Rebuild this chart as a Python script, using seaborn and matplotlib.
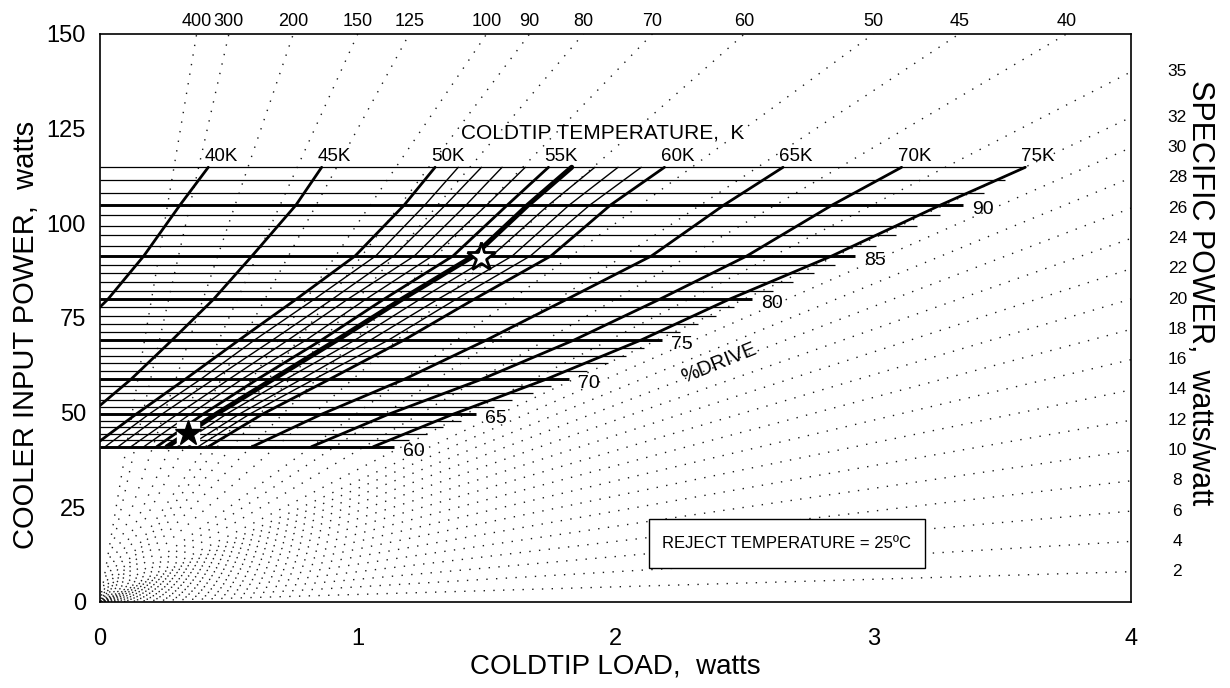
import numpy as np
import pandas as pd
import seaborn as sns
import matplotlib.pyplot as plt
from matplotlib.ticker import MultipleLocator
from matplotlib.patches import Rectangle

# drive levels (%) and the cooler input power of each drive line (W)
drive = list(range(60, 94))
power = [41.0, 42.7, 44.4, 46.2, 47.9, 49.6, 51.4, 53.3, 55.1, 57.0, 58.8,
         60.9, 63.0, 65.0, 67.1, 69.2, 71.3, 73.5, 75.6, 77.8, 79.9,
         82.2, 84.5, 86.8, 89.1, 91.4, 94.1, 96.8, 99.4, 102.1, 104.8,
         108.1, 111.5, 114.8]
# coldtip load where each drive line stops (W)
drive_end = [1.14, 1.20, 1.27, 1.33, 1.40, 1.46, 1.53, 1.60, 1.68, 1.75, 1.82,
             1.89, 1.97, 2.04, 2.11, 2.18, 2.25, 2.32, 2.39, 2.46, 2.53,
             2.61, 2.69, 2.77, 2.85, 2.93, 3.01, 3.09, 3.17, 3.26, 3.35,
             3.43, 3.51, 3.59]

# coldtip temperature curves: load (W) at these drive levels
curve_drive = [60, 65, 70, 75, 80, 85, 90, 93]
load_40K = [-0.62, -0.45, -0.29, -0.13, 0.03, 0.17, 0.31, 0.42]
load_45K = [-0.19, -0.04, 0.12, 0.28, 0.44, 0.59, 0.76, 0.86]
load_50K = [-0.03, 0.14, 0.33, 0.54, 0.76, 0.99, 1.18, 1.30]
load_51K = [0.02, 0.19, 0.39, 0.60, 0.83, 1.07, 1.26, 1.39]
load_52K = [0.07, 0.24, 0.44, 0.67, 0.90, 1.14, 1.34, 1.48]
load_53K = [0.12, 0.30, 0.50, 0.73, 0.96, 1.22, 1.42, 1.56]
load_54K = [0.17, 0.35, 0.55, 0.80, 1.03, 1.29, 1.50, 1.65]
load_55K = [0.22, 0.40, 0.61, 0.86, 1.10, 1.37, 1.58, 1.74]
load_56K = [0.26, 0.45, 0.67, 0.92, 1.17, 1.45, 1.66, 1.83]
load_57K = [0.30, 0.49, 0.72, 0.99, 1.24, 1.52, 1.74, 1.92]
load_58K = [0.34, 0.54, 0.78, 1.05, 1.31, 1.60, 1.82, 2.01]
load_59K = [0.38, 0.58, 0.83, 1.12, 1.38, 1.67, 1.90, 2.10]
load_60K = [0.42, 0.63, 0.89, 1.18, 1.45, 1.75, 1.98, 2.19]
load_65K = [0.59, 0.86, 1.18, 1.50, 1.81, 2.14, 2.42, 2.65]
load_70K = [0.82, 1.12, 1.48, 1.84, 2.17, 2.51, 2.84, 3.11]
load_75K = [1.06, 1.37, 1.73, 2.10, 2.44, 2.84, 3.26, 3.59]

thick_temps = {40: load_40K, 45: load_45K, 50: load_50K, 55: load_55K,
               60: load_60K, 65: load_65K, 70: load_70K, 75: load_75K}
thin_temps = {51: load_51K, 52: load_52K, 53: load_53K, 54: load_54K,
              57: load_57K, 58: load_58K, 59: load_59K}
bold_temps = {56: load_56K}

# specific power rays (watts/watt)
sp_top = [400, 300, 200, 150, 125, 100, 90, 80, 70, 60, 50, 45, 40]
sp_right = [35, 32, 30, 28, 26, 24, 22, 20, 18, 16, 14, 12, 10, 8, 6, 4, 2]

# operating points
star_load = [0.34, 1.48]
star_power = [44.5, 91.2]

sns.set_style("white")
plt.rcParams['font.family'] = ['Liberation Sans', 'DejaVu Sans']
plt.rcParams.update({'text.color': 'black', 'axes.labelcolor': 'black',
                     'xtick.color': 'black', 'ytick.color': 'black'})

fig = plt.figure(figsize=(12.3, 6.88), dpi=100)
ax = fig.add_axes([0.0813, 0.125, 0.8382, 0.8256])

# dotted specific power lines from the origin
for i, sp in enumerate(sp_top + sp_right):
    ax.plot([0, 4], [0, 4 * sp], color='#1a1a1a', lw=1.0,
            linestyle=((i * 2.3) % 7, (1, 6)), zorder=1)

# drive lines
lw_drive = [2.1 if d % 5 == 0 else 0.9 for d in drive]
ax.hlines(power, 0, drive_end, colors='black', linewidths=lw_drive, zorder=2)


def curve_frame(temps):
    cp = [power[drive.index(d)] for d in curve_drive]
    rows = []
    for t, q in temps.items():
        for x, y in zip(q, cp):
            rows.append((t, x, y))
    return pd.DataFrame(rows, columns=['T', 'load', 'power'])


for temps, lw in [(thin_temps, 1.0), (thick_temps, 2.0), (bold_temps, 3.6)]:
    sns.lineplot(data=curve_frame(temps), x='load', y='power', units='T',
                 estimator=None, sort=False, color='black', lw=lw, ax=ax,
                 zorder=3)

# stars
ax.plot(star_load[0], star_power[0], marker='s', ms=16, color='white',
        ls='none', zorder=5)
ax.plot(star_load[0], star_power[0], marker='*', ms=19, color='black',
        ls='none', zorder=6)
ax.plot(star_load[1], star_power[1], marker='*', ms=21, mfc='white',
        mec='black', mew=2.0, ls='none', zorder=6)

# labels on the grid
for d, p, e in zip(drive, power, drive_end):
    if d % 5 == 0:
        ax.text(e + 0.035, p - 1.2, str(d), fontsize=14, ha='left',
                va='center', zorder=4)
for t, q in thick_temps.items():
    ax.text(q[-1] + 0.05, 117.6, f"{t}K", fontsize=13.5, ha='center',
            va='center', zorder=4)
ax.text(1.95, 123.8, "COLDTIP TEMPERATURE,  K", fontsize=15, ha='center',
        va='center')
ax.text(2.40, 63.0, "%DRIVE", fontsize=14.5, rotation=22, ha='center',
        va='center')

# specific power labels
for sp in sp_top:
    ax.text(150 / sp, 153.4, str(sp), fontsize=13, ha='center', va='center',
            clip_on=False)
for sp in sp_right:
    ax.text(4.18, 4 * sp, str(sp), fontsize=12.5, ha='center', va='center',
            clip_on=False)

# reject temperature box
ax.add_patch(Rectangle((2.13, 9.0), 1.07, 12.9, fc='white', ec='black',
                       lw=1.0, zorder=7))
ax.text(2.665, 15.45, "REJECT TEMPERATURE = 25ºC", fontsize=12, ha='center',
        va='center', zorder=8)

ax.set_xlim(0, 4)
ax.set_ylim(0, 150)
ax.xaxis.set_major_locator(MultipleLocator(1))
ax.xaxis.set_minor_locator(MultipleLocator(0.25))
ax.yaxis.set_major_locator(MultipleLocator(25))
ax.yaxis.set_minor_locator(MultipleLocator(5))
ax.tick_params(which='major', direction='in', length=7, width=1.0,
               labelsize=17, top=False, right=False)
ax.tick_params(which='minor', direction='in', length=3.5, width=0.8,
               top=False, right=False)
ax.tick_params(axis='x', pad=19)
ax.tick_params(axis='y', pad=10)
for s in ax.spines.values():
    s.set_linewidth(1.2)
    s.set_color('black')

ax.set_xlabel("COLDTIP LOAD,  watts", fontsize=20, labelpad=2)
ax.set_ylabel("COOLER INPUT POWER,  watts", fontsize=21, labelpad=5, y=0.47)
ax.text(1.067, 0.544, "SPECIFIC POWER,  watts/watt", fontsize=22,
        rotation=270, ha='center', va='center', transform=ax.transAxes)

fig.savefig("out.png", dpi=100)
